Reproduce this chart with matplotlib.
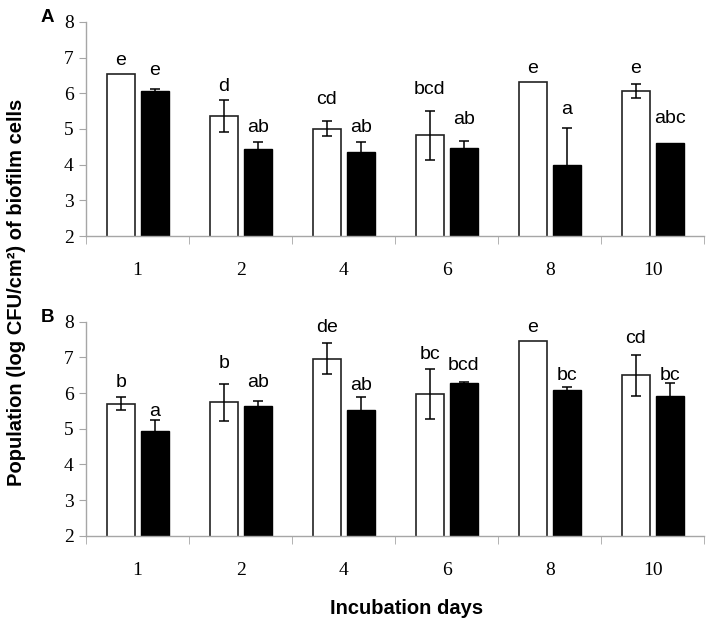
import numpy as np
import matplotlib
matplotlib.use('Agg')
import matplotlib.pyplot as plt

# Datos
DAYS = ['1', '2', '4', '6', '8', '10']

# Panel A
A_WHITE = [6.55, 5.36, 5.01, 4.82, 6.32, 6.06]
A_WHITE_ERR = [0.0, 0.45, 0.22, 0.68, 0.0, 0.20]
A_BLACK = [6.07, 4.44, 4.36, 4.48, 3.98, 4.60]
A_BLACK_ERR = [0.06, 0.19, 0.27, 0.19, 1.06, 0.0]
A_WHITE_LETTERS = ['e', 'd', 'cd', 'bcd', 'e', 'e']
A_BLACK_LETTERS = ['e', 'ab', 'ab', 'ab', 'a', 'abc']
A_WHITE_LAB_Y = [6.92, 6.19, 5.83, 6.11, 6.70, 6.70]
A_BLACK_LAB_Y = [6.64, 5.04, 5.05, 5.27, 5.55, 5.30]

# Panel B
B_WHITE = [5.70, 5.74, 6.97, 5.97, 7.45, 6.50]
B_WHITE_ERR = [0.18, 0.52, 0.43, 0.70, 0.0, 0.58]
B_BLACK = [4.93, 5.63, 5.54, 6.27, 6.08, 5.93]
B_BLACK_ERR = [0.33, 0.14, 0.35, 0.04, 0.10, 0.34]
B_WHITE_LETTERS = ['b', 'b', 'de', 'bc', 'e', 'cd']
B_BLACK_LETTERS = ['a', 'ab', 'ab', 'bcd', 'bc', 'bc']
B_WHITE_LAB_Y = [6.30, 6.82, 7.85, 7.07, 7.85, 7.54]
B_BLACK_LAB_Y = [5.49, 6.30, 6.21, 6.78, 6.49, 6.49]

GRIS = '#a6a6a6'
W = 0.27
OFF = 0.165


def barras_error(ax, x, vals, errs):
    """
    Dibuja las barras de error solo donde el error es mayor que cero.
    """
    x = np.asarray(x)
    vals = np.asarray(vals)
    errs = np.asarray(errs)
    m = errs > 0
    ax.errorbar(x[m], vals[m], yerr=errs[m], fmt='none', ecolor='black',
                elinewidth=1.1, capsize=3.8, capthick=1.1, zorder=3)


def panel(ax, white, white_err, black, black_err, w_letters, b_letters, w_lab, b_lab, tag):
    """
    Dibuja un panel de barras blancas y negras con errores y letras.
    """
    x = np.arange(len(DAYS))
    ax.bar(x - OFF, white, W, color='white', edgecolor='#222222', linewidth=1.2, zorder=2)
    ax.bar(x + OFF, black, W, color='black', edgecolor='black', linewidth=1.0, zorder=2)
    barras_error(ax, x - OFF, white, white_err)
    barras_error(ax, x + OFF, black, black_err)

    # Letras de significancia
    for i in range(len(DAYS)):
        ax.text(x[i] - OFF, w_lab[i], w_letters[i], ha='center', va='center',
                fontsize=14, family='Liberation Sans')
        ax.text(x[i] + OFF, b_lab[i], b_letters[i], ha='center', va='center',
                fontsize=14, family='Liberation Sans')

    ax.set_ylim(2, 8)
    ax.set_xlim(-0.5, len(DAYS) - 0.5)
    ax.set_yticks(range(2, 9))
    ax.set_yticklabels([str(v) for v in range(2, 9)], family='Liberation Serif', fontsize=14)

    # Etiquetas en el centro, marcas entre categorias
    ax.set_xticks(x)
    ax.set_xticklabels(DAYS, family='Liberation Serif', fontsize=14)
    ax.tick_params(axis='x', which='major', length=0, pad=19)
    ax.set_xticks(np.arange(len(DAYS) + 1) - 0.5, minor=True)
    ax.tick_params(axis='x', which='minor', length=6, color=GRIS, direction='out')
    ax.tick_params(axis='y', length=5, color=GRIS, direction='out', pad=4)

    for s in ['top', 'right']:
        ax.spines[s].set_visible(False)
    for s in ['left', 'bottom']:
        ax.spines[s].set_color(GRIS)
        ax.spines[s].set_linewidth(1.0)

    ax.text(-0.063, 1.02, tag, transform=ax.transAxes, fontsize=13.5, fontweight='bold',
            family='Liberation Sans', ha='center', va='center')


fig = plt.figure(figsize=(7.12, 6.26), dpi=100)
ax1 = fig.add_axes([0.121, 0.623, 0.868, 0.342])
ax2 = fig.add_axes([0.121, 0.144, 0.868, 0.342])

panel(ax1, A_WHITE, A_WHITE_ERR, A_BLACK, A_BLACK_ERR, A_WHITE_LETTERS, A_BLACK_LETTERS,
      A_WHITE_LAB_Y, A_BLACK_LAB_Y, 'A')
panel(ax2, B_WHITE, B_WHITE_ERR, B_BLACK, B_BLACK_ERR, B_WHITE_LETTERS, B_BLACK_LETTERS,
      B_WHITE_LAB_Y, B_BLACK_LAB_Y, 'B')

fig.text(17 / 712, 1 - 292 / 626, 'Population (log CFU/cm²) of biofilm cells', rotation=90,
         ha='center', va='center', fontsize=14.5, fontweight='bold', family='Liberation Sans')
fig.text(407 / 712, 1 - 608 / 626, 'Incubation days', ha='center', va='center',
         fontsize=14.5, fontweight='bold', family='Liberation Sans')

fig.savefig('out.png', dpi=100)
